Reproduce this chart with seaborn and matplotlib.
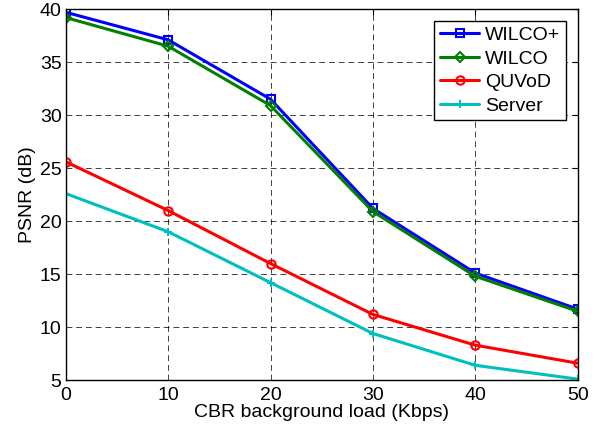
import matplotlib
matplotlib.use("Agg")
import matplotlib.pyplot as plt
import seaborn as sns
import pandas as pd

# data
load = [0, 10, 20, 30, 40, 50]
wilco_plus = [39.7, 37.1, 31.5, 21.2, 15.1, 11.7]
wilco = [39.2, 36.5, 30.9, 20.9, 14.8, 11.5]
quvod = [25.6, 21.0, 16.0, 11.2, 8.3, 6.6]
server = [22.6, 19.0, 14.2, 9.4, 6.4, 5.1]

series = ["WILCO+", "WILCO", "QUVoD", "Server"]
colors = ["#0000ff", "#008000", "#ff0000", "#00bfbf"]
markers = ["s", "D", "o", "+"]

df = pd.DataFrame({
    "load": load * 4,
    "psnr": wilco_plus + wilco + quvod + server,
    "method": sum([[s] * len(load) for s in series], []),
})

sns.set_style("white")
plt.rcParams["font.family"] = ["Liberation Sans", "DejaVu Sans"]
plt.rcParams["text.color"] = "black"
plt.rcParams["axes.labelcolor"] = "black"
plt.rcParams["xtick.color"] = "black"
plt.rcParams["ytick.color"] = "black"

fig = plt.figure(figsize=(6.03, 4.32), dpi=100)
ax = fig.add_axes([0.109, 0.12, 0.849, 0.859])

for s, c, m in zip(series, colors, markers):
    d = df[df["method"] == s]
    sns.lineplot(data=d, x="load", y="psnr", ax=ax, color=c, marker=m,
                 markersize=6 if m != "D" else 5.5, markerfacecolor="none",
                 markeredgecolor=c, markeredgewidth=1.5, linewidth=2.2,
                 label=s)

ax.set_xlim(0, 50)
ax.set_ylim(5, 40)
ax.set_xticks(load)
ax.set_yticks(range(5, 41, 5))
ax.tick_params(direction="in", labelsize=14, length=4,
               top=True, right=True)
ax.tick_params(axis="x", pad=5)
ax.tick_params(axis="y", pad=3)
ax.grid(True, linestyle=(0, (6, 4)), color="black", linewidth=0.7, alpha=0.75)
for sp in ax.spines.values():
    sp.set_color("black")
    sp.set_linewidth(1)
ax.set_xlabel("CBR background load (Kbps)", fontsize=14, labelpad=0)
ax.set_ylabel("PSNR (dB)", fontsize=14, labelpad=3)

leg = ax.legend(loc="upper right", fontsize=14, frameon=True, fancybox=False,
                edgecolor="black", framealpha=1, handlelength=2.0,
                borderpad=0.3, labelspacing=0.3, handletextpad=0.3,
                borderaxespad=0.6)
leg.get_frame().set_linewidth(1)

fig.savefig("out.png", dpi=100)
